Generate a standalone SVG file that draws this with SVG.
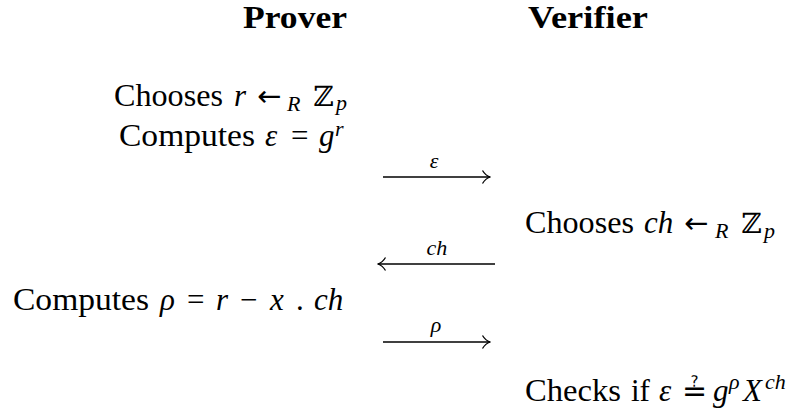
<svg xmlns="http://www.w3.org/2000/svg" width="798" height="410" viewBox="0 0 798 410">
<style>
text{font-family:"Liberation Serif","DejaVu Serif",serif;fill:#000;font-size:31px}
.h{font-weight:bold}
.i{font-style:italic}
.s{font-size:22px}
.ar{font-family:"DejaVu Sans",sans-serif;font-size:29px}
.bb{font-family:"DejaVu Serif",serif;font-size:28px}
.q{font-family:"DejaVu Serif","DejaVu Sans",serif;font-size:30px}
.lbl{font-size:22px;font-style:italic}
.arr{stroke:#000;stroke-width:1.3;fill:none}
</style>
<defs>
<marker id="ah" viewBox="0 0 10 14" refX="9" refY="7" markerWidth="10" markerHeight="14" markerUnits="userSpaceOnUse" orient="auto">
<path d="M1.5,0.5 Q4.5,5.5 9,7 Q4.5,8.5 1.5,13.5" stroke="#000" stroke-width="1.3" fill="none"/>
</marker>
</defs>
<rect width="798" height="410" fill="#fff"/>
<g id="headers">
<text class="h" x="347" y="28" text-anchor="end" textLength="104" lengthAdjust="spacingAndGlyphs">Prover</text>
<text class="h" x="528" y="28" textLength="120" lengthAdjust="spacingAndGlyphs">Verifier</text>
</g>
<g id="prover-step1">
<text><tspan x="114" y="106" textLength="109" lengthAdjust="spacingAndGlyphs">Chooses</tspan><tspan class="i" x="234" y="106">r</tspan><tspan class="ar" x="257" y="106">←</tspan><tspan class="i s" x="287" y="111">R</tspan><tspan class="bb" x="313" y="106">ℤ</tspan><tspan class="i s" x="336" y="110">p</tspan></text>
<text><tspan x="119" y="146" textLength="136" lengthAdjust="spacingAndGlyphs">Computes</tspan><tspan class="i" x="265" y="146">ε</tspan><tspan x="291" y="146">=</tspan><tspan class="i" x="319" y="146">g</tspan><tspan class="i s" x="335" y="136">r</tspan></text>
</g>
<g id="verifier-step1">
<text><tspan x="525" y="233" textLength="109" lengthAdjust="spacingAndGlyphs">Chooses</tspan><tspan class="i" x="644" y="233">ch</tspan><tspan class="ar" x="684" y="233">←</tspan><tspan class="i s" x="715" y="238">R</tspan><tspan class="bb" x="741" y="233">ℤ</tspan><tspan class="i s" x="764" y="238">p</tspan></text>
</g>
<g id="prover-step2">
<text><tspan x="13" y="310" textLength="136" lengthAdjust="spacingAndGlyphs">Computes</tspan><tspan class="i" x="160" y="310">ρ</tspan><tspan x="187" y="310">=</tspan><tspan class="i" x="216" y="310">r</tspan><tspan x="240" y="310">−</tspan><tspan class="i" x="270" y="310">x</tspan><tspan x="296" y="310">.</tspan><tspan class="i" x="314" y="310">ch</tspan></text>
</g>
<g id="verifier-step2">
<text><tspan x="525" y="401" textLength="96" lengthAdjust="spacingAndGlyphs">Checks</tspan><tspan x="631" y="401">if</tspan><tspan class="i" x="659" y="401">ε</tspan><tspan class="q" x="682" y="401">≟</tspan><tspan class="i" x="713" y="401">g</tspan><tspan class="i s" x="729" y="389">ρ</tspan><tspan class="i" x="743" y="401">X</tspan><tspan class="i s" x="765" y="389">ch</tspan></text>
</g>
<g id="connectors">
<line class="arr" x1="383" y1="177" x2="490" y2="177" marker-end="url(#ah)"/>
<text class="lbl" x="434" y="168" text-anchor="middle">ε</text>
<line class="arr" x1="495" y1="264" x2="378" y2="264" marker-end="url(#ah)"/>
<text class="lbl" x="437" y="255" text-anchor="middle">ch</text>
<line class="arr" x1="383" y1="342" x2="490" y2="342" marker-end="url(#ah)"/>
<text class="lbl" x="436" y="332" text-anchor="middle">ρ</text>
</g>
</svg>
